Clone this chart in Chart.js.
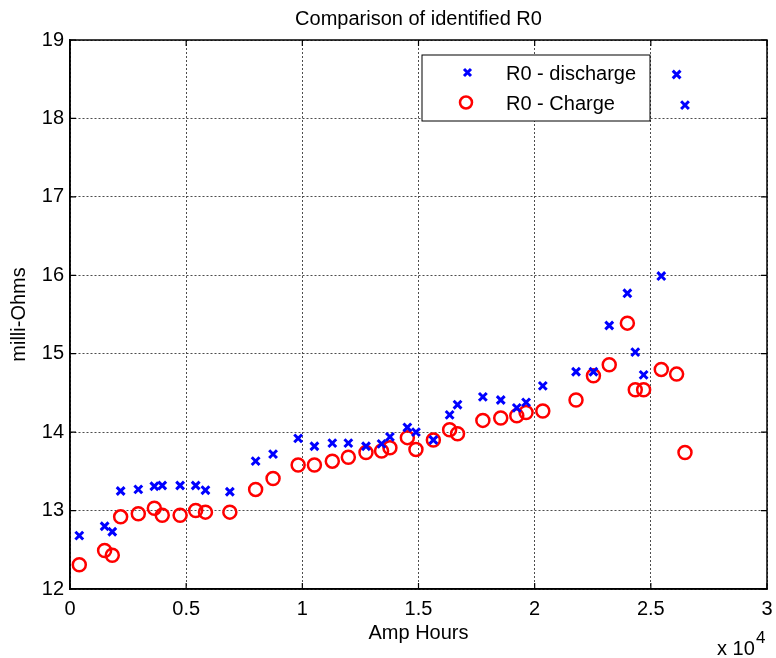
<!DOCTYPE html>
<html>
<head>
<meta charset="utf-8">
<script src="https://cdn.jsdelivr.net/npm/chart.js@4.4.0/dist/chart.umd.min.js"></script>
<style>
  html, body { margin: 0; padding: 0; background: #fff; }
  #wrap { width: 776px; height: 658px; position: relative; }
</style>
</head>
<body>
<div id="wrap"><canvas id="r0Chart"></canvas></div>
<script>
// amp-hours where R0 was identified (shared by both series)
const amps = [400, 1490, 1820, 2180, 2940, 3630, 3970, 4740, 5410, 5830, 6880,
  7990, 8740, 9820, 10520, 11290, 11980, 12740, 13410, 13770, 14520, 14890,
  15640, 16340, 16680, 17770, 18540, 19230, 19630, 20350, 21780, 22530, 23210,
  23990, 24330, 24690, 25450, 26110, 26470];
const r0Discharge = [12.68, 12.80, 12.73, 13.25, 13.27, 13.31, 13.32, 13.32, 13.32, 13.26, 13.24,
  13.63, 13.72, 13.92, 13.82, 13.86, 13.86, 13.82, 13.85, 13.94, 14.06, 14.00,
  13.90, 14.22, 14.35, 14.45, 14.41, 14.31, 14.38, 14.59, 14.77, 14.77, 15.36,
  15.77, 15.02, 14.73, 15.99, 18.56, 18.17];
const r0Charge = [12.31, 12.49, 12.43, 12.92, 12.96, 13.03, 12.94, 12.94, 13.00, 12.98, 12.98,
  13.27, 13.41, 13.58, 13.58, 13.63, 13.68, 13.74, 13.76, 13.80, 13.93, 13.78,
  13.90, 14.03, 13.98, 14.15, 14.18, 14.21, 14.25, 14.27, 14.41, 14.72, 14.86,
  15.39, 14.54, 14.54, 14.80, 14.74, 13.74];
const xTickLabels = ["0", "0.5", "1", "1.5", "2", "2.5", "3"];
const yTickLabels = ["12", "13", "14", "15", "16", "17", "18", "19"];

const FONT = "Liberation Sans, Arial, sans-serif";
const gridStyle = {
  color: "#4d4d4d",
  lineWidth: 1,
  drawTicks: false,
};

// frame, inward ticks, title, exponent and legend, MATLAB style
const matlabFrame = {
  id: "matlabFrame",
  afterDraw(chart) {
    const ctx = chart.ctx;
    const a = chart.chartArea;
    const xs = chart.scales.x, ys = chart.scales.y;
    ctx.save();
    ctx.strokeStyle = "#000";
    ctx.lineWidth = 1.5;
    ctx.strokeRect(a.left, a.top, a.right - a.left, a.bottom - a.top);
    ctx.lineWidth = 1.2;
    ctx.beginPath();
    xs.ticks.forEach(t => {
      const px = xs.getPixelForValue(t.value);
      ctx.moveTo(px, a.bottom); ctx.lineTo(px, a.bottom - 6);
      ctx.moveTo(px, a.top); ctx.lineTo(px, a.top + 6);
    });
    ys.ticks.forEach(t => {
      const py = ys.getPixelForValue(t.value);
      ctx.moveTo(a.left, py); ctx.lineTo(a.left + 6, py);
      ctx.moveTo(a.right, py); ctx.lineTo(a.right - 6, py);
    });
    ctx.stroke();

    ctx.fillStyle = "#000";
    ctx.font = "20px " + FONT;
    ctx.textAlign = "center";
    ctx.textBaseline = "middle";
    ctx.fillText("Comparison of identified R0", (a.left + a.right) / 2, 19);

    ctx.textAlign = "left";
    ctx.textBaseline = "alphabetic";
    ctx.fillText("x 10", 717, 655);
    ctx.font = "17px " + FONT;
    ctx.fillText("4", 756, 643);

    // legend
    const lx = 422, ly = 55, lw = 228, lh = 66;
    ctx.fillStyle = "#fff";
    ctx.fillRect(lx, ly, lw, lh);
    ctx.strokeStyle = "#000";
    ctx.lineWidth = 1;
    ctx.strokeRect(lx, ly, lw, lh);

    ctx.strokeStyle = "#0000ff";
    ctx.lineWidth = 3;
    ctx.beginPath();
    ctx.moveTo(464, 69); ctx.lineTo(471, 76);
    ctx.moveTo(471, 69); ctx.lineTo(464, 76);
    ctx.stroke();

    ctx.strokeStyle = "#ff0000";
    ctx.lineWidth = 2.5;
    ctx.beginPath();
    ctx.arc(466, 102.5, 6, 0, Math.PI * 2);
    ctx.stroke();

    ctx.fillStyle = "#000";
    ctx.font = "20px " + FONT;
    ctx.textBaseline = "middle";
    ctx.fillText("R0 - discharge", 506, 74);
    ctx.fillText("R0 - Charge", 506, 104);
    ctx.restore();
  }
};

new Chart(document.getElementById("r0Chart"), {
  type: "scatter",
  data: {
    datasets: [
      {
        label: "R0 - discharge",
        data: amps.map((a, i) => ({ x: a, y: r0Discharge[i] })),
        pointStyle: "crossRot",
        pointRadius: 5.5,
        pointHoverRadius: 5.5,
        pointBorderWidth: 3,
        borderColor: "#0000ff",
        backgroundColor: "#0000ff",
      },
      {
        label: "R0 - Charge",
        data: amps.map((a, i) => ({ x: a, y: r0Charge[i] })),
        pointStyle: "circle",
        pointRadius: 6.5,
        pointHoverRadius: 6.5,
        pointBorderWidth: 2.5,
        borderColor: "#ff0000",
        backgroundColor: "rgba(0,0,0,0)",
      },
    ],
  },
  options: {
    responsive: true,
    maintainAspectRatio: false,
    animation: false,
    layout: { padding: { top: 40, right: 9, left: 0, bottom: 0 } },
    plugins: {
      legend: { display: false },
      title: { display: false },
      tooltip: { enabled: false },
    },
    scales: {
      x: {
        type: "linear",
        min: 0,
        max: 30000,
        afterFit(scale) {
          scale.height = 69;
          scale.paddingRight = 0;
          scale.paddingLeft = 0;
        },
        grid: gridStyle,
        border: { display: true, color: "#000", width: 1.5, dash: [2, 2] },
        ticks: {
          stepSize: 5000,
          padding: 8,
          color: "#000",
          font: { family: FONT, size: 20 },
          maxRotation: 0,
          callback: (v, i) => xTickLabels[i],
        },
        title: {
          display: true,
          text: "Amp Hours",
          color: "#000",
          font: { family: FONT, size: 20 },
          padding: { top: 0, bottom: 13 },
        },
      },
      y: {
        min: 12,
        max: 19,
        afterFit(scale) { scale.width = 70; },
        grid: gridStyle,
        border: { display: true, color: "#000", width: 1.5, dash: [2, 2] },
        ticks: {
          stepSize: 1,
          padding: 6,
          color: "#000",
          font: { family: FONT, size: 20 },
          callback: (v, i) => yTickLabels[i],
        },
        title: {
          display: true,
          text: "milli-Ohms",
          color: "#000",
          font: { family: FONT, size: 20 },
          padding: { top: 7, bottom: 0 },
        },
      },
    },
  },
  plugins: [matlabFrame],
});
</script>
</body>
</html>
